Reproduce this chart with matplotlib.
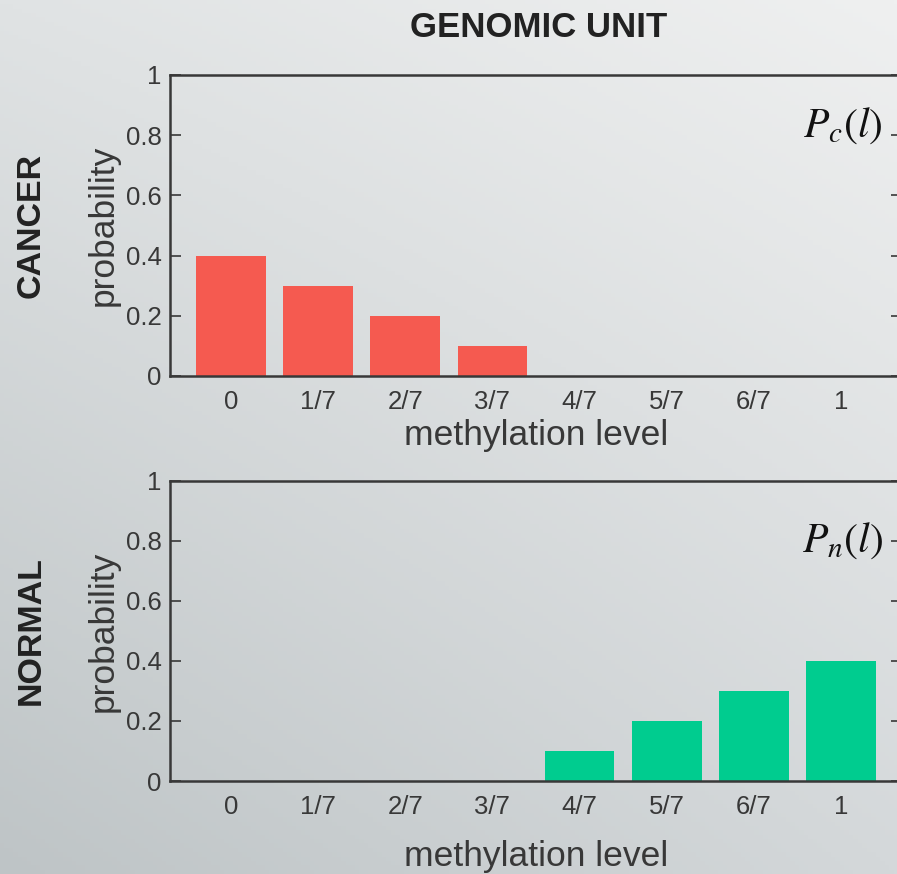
import numpy as np
import matplotlib.pyplot as plt

# data
levels = ["0", "1/7", "2/7", "3/7", "4/7", "5/7", "6/7", "1"]
cancer_prob = [0.4, 0.3, 0.2, 0.1, 0, 0, 0, 0]
normal_prob = [0, 0, 0, 0, 0.1, 0.2, 0.3, 0.4]
yticks = [0, 0.2, 0.4, 0.6, 0.8, 1]
ytick_labels = ["0", "0.2", "0.4", "0.6", "0.8", "1"]

red = "#F55A50"
green = "#00CC8F"
dark = "#383838"

plt.rcParams["font.family"] = ["Liberation Sans", "DejaVu Sans"]
plt.rcParams["mathtext.fontset"] = "stix"

fig = plt.figure(figsize=(8.97, 8.74), dpi=100)

# gradient background (darker bottom-left, lighter top-right)
bg = fig.add_axes([0, 0, 1, 1], zorder=-10)
tl = np.array([224, 227, 228]) / 255
tr = np.array([239, 240, 240]) / 255
bl = np.array([190, 196, 198]) / 255
br = np.array([212, 216, 218]) / 255
u = np.linspace(0, 1, 200)[None, :, None]
v = np.linspace(0, 1, 200)[:, None, None]
img = (1 - v) * ((1 - u) * tl + u * tr) + v * ((1 - u) * bl + u * br)
bg.imshow(img, aspect="auto", extent=[0, 1, 0, 1])
bg.axis("off")

x = np.arange(len(levels))


def panel(rect, values, color, label, label_y, row_name, xpad):
    ax = fig.add_axes(rect)
    ax.patch.set_alpha(0)
    ax.bar(x, values, width=0.8, color=color, zorder=2)
    ax.set_xlim(-0.7, 7.7)
    ax.set_ylim(0, 1)
    ax.set_xticks(x)
    ax.set_xticklabels(levels)
    ax.set_yticks(yticks)
    ax.set_yticklabels(ytick_labels)
    ax.tick_params(axis="x", length=0, pad=10, labelsize=18.5, colors=dark)
    ax.tick_params(axis="y", direction="in", length=8, width=1.2,
                   right=True, labelsize=18.5, colors=dark, pad=6)
    for s in ax.spines.values():
        s.set_color(dark)
        s.set_linewidth(1.8)
    ax.set_xlabel("methylation level", fontsize=25.5, color=dark,
                  labelpad=xpad)
    ax.set_ylabel("probability", fontsize=25.5, color=dark, labelpad=4)
    ax.text(0.974, label_y, label, transform=ax.transAxes, ha="right",
            va="center", fontsize=30, color="#111111")
    fig.text(0.035, rect[1] + rect[3] / 2, row_name, rotation=90,
             ha="center", va="center", fontsize=24.5, fontweight="bold",
             color="#222222")
    return ax


top = panel([0.1895, 0.5698, 0.816, 0.3444], cancer_prob, red,
            r"$P_c(l)$", 0.83, "CANCER", 4)
bottom = panel([0.1895, 0.1064, 0.816, 0.3433], normal_prob, green,
               r"$P_n(l)$", 0.80, "NORMAL", 15)

fig.text(0.601, 0.968, "GENOMIC UNIT", ha="center", va="center",
         fontsize=25, fontweight="bold", color="#222222")

fig.savefig("out.png", dpi=100)
